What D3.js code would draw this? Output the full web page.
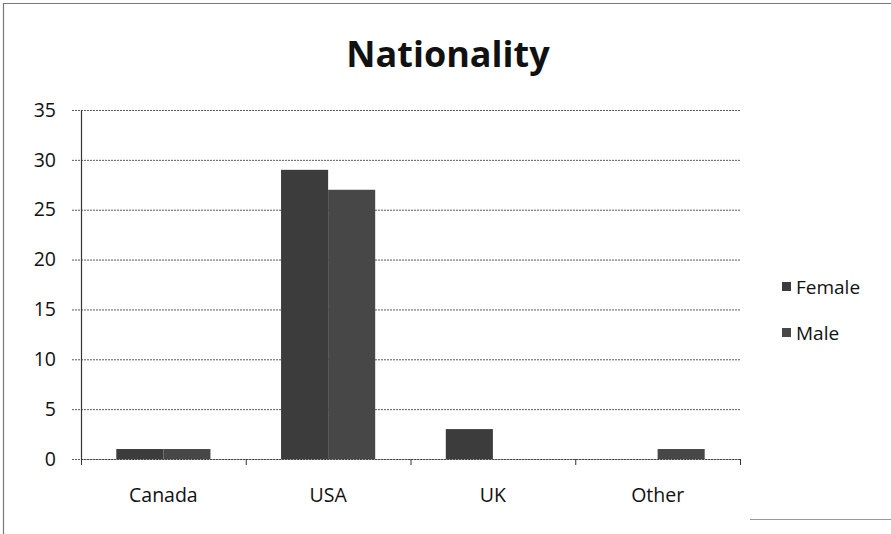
<!DOCTYPE html>
<html>
<head>
<meta charset="utf-8">
<script src="https://cdn.jsdelivr.net/npm/d3@7"></script>
<style>
  html, body { margin: 0; padding: 0; background: #fff; }
  svg { display: block; }
</style>
</head>
<body>
<svg id="chart" width="891" height="534"></svg>
<script>
// Nationality counts by sex
const categories = ["Canada", "USA", "UK", "Other"];
const seriesNames = ["Female", "Male"];
const femaleValues = [1, 29, 3, 0];
const maleValues = [1, 27, 0, 1];
const yTicks = [0, 5, 10, 15, 20, 25, 30, 35];
const seriesColors = ["#3c3c3c", "#474747"];

const svg = d3.select("#chart");
const W = 891, H = 534;
const m = { left: 81, right: 151, top: 110, bottom: 75 };
const plotW = W - m.left - m.right;
const plotH = H - m.top - m.bottom;
const font = "'Open Sans', Lato, sans-serif";

// Outer frame
svg.append("path")
  .attr("d", `M3.5,534 V3.5 H891`)
  .attr("fill", "none").attr("stroke", "#777").attr("stroke-width", 1.2);
svg.append("line")
  .attr("x1", 750).attr("x2", 891).attr("y1", 519.5).attr("y2", 519.5)
  .attr("stroke", "#999").attr("stroke-width", 1);

const g = svg.append("g").attr("transform", `translate(${m.left},${m.top})`);

const x = d3.scaleBand().domain(categories).range([0, plotW]).paddingInner(0).paddingOuter(0);
const bw = x.bandwidth() / 3.5;              // two bars plus a 1.5-bar gap per category
const xs = d3.scaleBand().domain(seriesNames).range([0.75 * bw, 2.75 * bw]);
const y = d3.scaleLinear().domain([0, 35]).range([plotH, 0]);

// Horizontal gridlines
g.append("g")
  .call(d3.axisLeft(y).tickValues(yTicks).tickSize(-plotW).tickFormat(""))
  .call(a => a.select(".domain").remove())
  .call(a => a.selectAll("line").attr("stroke", "#5a5a5a").attr("stroke-width", 1)
    .attr("stroke-dasharray", "2,1").attr("x1", -9));

// Bars
const table = categories.map((c, i) => ({ c, vals: [femaleValues[i], maleValues[i]] }));
const groups = g.selectAll(".grp").data(table).join("g")
  .attr("transform", d => `translate(${x(d.c)},0)`);
groups.selectAll("rect")
  .data(d => d.vals.map((v, k) => ({ name: seriesNames[k], v, k })))
  .join("rect")
  .attr("x", d => xs(d.name))
  .attr("width", xs.bandwidth())
  .attr("y", d => y(d.v))
  .attr("height", d => y(0) - y(d.v))
  .attr("fill", d => seriesColors[d.k]);

// Y axis
const yAxis = g.append("g")
  .call(d3.axisLeft(y).tickValues(yTicks).tickSize(0).tickPadding(25));
yAxis.select(".domain").attr("stroke", "#333").attr("stroke-width", 1.2);
yAxis.selectAll("text").attr("font-family", font).attr("font-size", 19.5).attr("fill", "#111");

// X axis
const xAxis = g.append("g").attr("transform", `translate(0,${plotH})`)
  .call(d3.axisBottom(x).tickSize(0).tickPadding(29));
xAxis.select(".domain").attr("stroke", "#444").attr("stroke-dasharray", "2,1");
xAxis.selectAll("text").attr("font-family", font).attr("font-size", 19.5).attr("fill", "#111");
// Category boundary ticks
g.append("g").selectAll("line")
  .data(categories.map(c => x(c)).concat([plotW]))
  .join("line")
  .attr("x1", d => d + 0.5).attr("x2", d => d + 0.5)
  .attr("y1", plotH).attr("y2", plotH + 6)
  .attr("stroke", "#333");

// Title
svg.append("text")
  .attr("x", 448).attr("y", 67)
  .attr("text-anchor", "middle")
  .attr("font-family", font).attr("font-weight", "bold").attr("font-size", 36)
  .attr("fill", "#111")
  .text("Nationality");

// Legend
const legend = svg.append("g");
seriesNames.forEach((s, i) => {
  const ly = 287 + i * 46;
  legend.append("rect").attr("x", 782).attr("y", ly - 5).attr("width", 9).attr("height", 9)
    .attr("fill", seriesColors[i]);
  legend.append("text").attr("x", 796).attr("y", ly).attr("dy", "0.35em")
    .attr("font-family", font).attr("font-size", 19).attr("fill", "#111").text(s);
});
</script>
</body>
</html>
